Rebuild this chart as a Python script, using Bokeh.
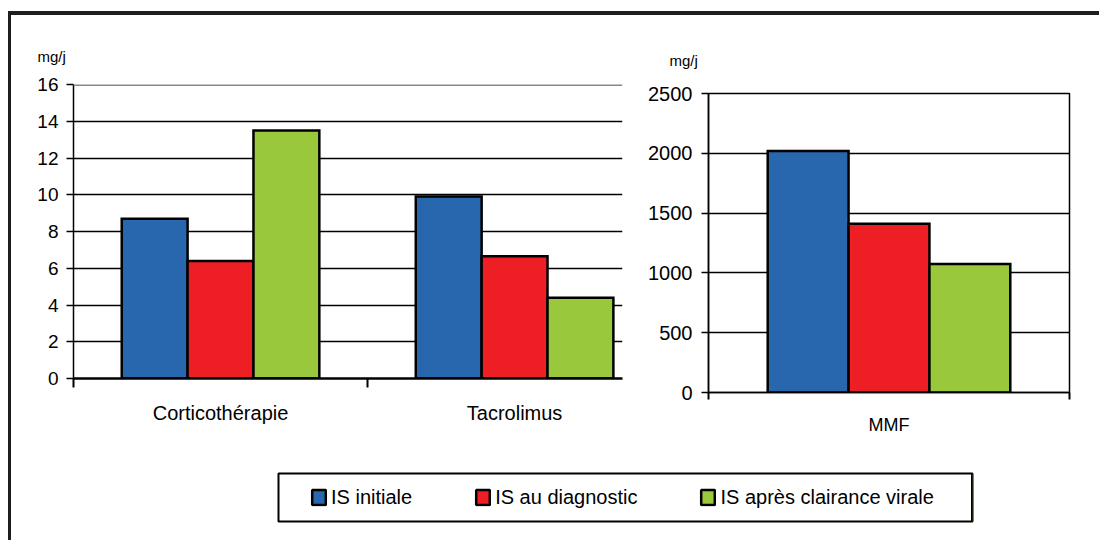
from bokeh.plotting import figure
from bokeh.models import (FixedTicker, Range1d, ColumnDataSource, Span,
                          Legend, LegendItem)
from bokeh.transform import dodge
from bokeh.layouts import column, row
from bokeh.embed import file_html
from bokeh.resources import INLINE

# ---- data ----
series = ["IS initiale", "IS au diagnostic", "IS après clairance virale"]
colors = ["#2866AE", "#EE1F24", "#99C83C"]

left_cats = ["Corticothérapie", "Tacrolimus"]
left_initiale = [8.7, 9.9]
left_diagnostic = [6.4, 6.65]
left_clairance = [13.5, 4.4]
left_ticks = [0, 2, 4, 6, 8, 10, 12, 14, 16]

right_cats = ["MMF"]
right_initiale = [2020]
right_diagnostic = [1410]
right_clairance = [1075]
right_ticks = [0, 500, 1000, 1500, 2000, 2500]

unit = "mg/j"
FONT = "Liberation Sans"
BW = 0.224


def style_common(p):
    p.xgrid.visible = False
    p.ygrid.grid_line_color = "black"
    p.ygrid.grid_line_width = 1.5
    for ax in (p.xaxis[0], p.yaxis[0]):
        ax.axis_line_color = "black"
        ax.major_label_text_font = FONT
        ax.major_label_text_color = "black"
        ax.major_tick_line_color = "black"
        ax.minor_tick_line_color = "black"
        ax.major_tick_line_width = 1.5
        ax.minor_tick_line_width = 2
    p.background_fill_color = "white"
    p.border_fill_color = "white"


def set_unit_title(p, offset, standoff):
    p.title.text = unit
    p.title.align = "left"
    p.title.offset = offset
    p.title.standoff = standoff
    p.title.text_font = FONT
    p.title.text_font_size = "15px"
    p.title.text_font_style = "normal"
    p.title.text_color = "black"


def add_bars(p, cats, vals):
    xs = [i + 0.5 for i in range(len(cats))]
    src = ColumnDataSource(dict(x=xs, a=vals[0], b=vals[1], c=vals[2]))
    for off, col, c in zip([-BW, 0, BW], ["a", "b", "c"], colors):
        p.vbar(x=dodge("x", off), top=col, width=BW, source=src, fill_color=c,
               line_color="black", line_width=2.5, line_join="miter")
    return xs


# ---- left chart ----
p1 = figure(width=619, height=425, x_range=Range1d(0, 1.867), y_range=Range1d(0, 16),
            output_backend="svg", toolbar_location=None,
            min_border_left=62, min_border_right=8, min_border_top=69, min_border_bottom=62)
style_common(p1)
set_unit_title(p1, -36, 39)
p1.outline_line_color = None
xs1 = add_bars(p1, left_cats, [left_initiale, left_diagnostic, left_clairance])
p1.xaxis.ticker = FixedTicker(ticks=xs1, minor_ticks=list(range(len(left_cats) + 1)))
p1.xaxis.major_label_overrides = {x: c for x, c in zip(xs1, left_cats)}
p1.xaxis.major_tick_out = 0
p1.xaxis.major_tick_in = 0
p1.xaxis.minor_tick_out = 9
p1.xaxis.minor_tick_in = 0
p1.xaxis.axis_line_width = 2.5
p1.xaxis.major_label_standoff = 14
p1.xaxis.major_label_text_font_size = "20px"
p1.yaxis.ticker = FixedTicker(ticks=left_ticks, minor_ticks=[])
p1.ygrid.ticker = FixedTicker(ticks=left_ticks, minor_ticks=[])
p1.yaxis.major_tick_out = 7
p1.yaxis.major_tick_in = 0
p1.yaxis.axis_line_width = 1.5
p1.yaxis.major_label_standoff = 8
p1.yaxis.major_label_text_font_size = "19px"
p1.add_layout(Span(location=left_ticks[-1], dimension="width", line_color="#888888", line_width=3))

# ---- right chart ----
p2 = figure(width=469, height=430, x_range=Range1d(0, 1), y_range=Range1d(0, 2500),
            output_backend="svg", toolbar_location=None, margin=(9, 0, 0, 0),
            min_border_left=78, min_border_right=30, min_border_top=69, min_border_bottom=62)
style_common(p2)
set_unit_title(p2, -39, 49)
p2.outline_line_color = "black"
p2.outline_line_width = 1.5
xs2 = add_bars(p2, right_cats, [right_initiale, right_diagnostic, right_clairance])
p2.xaxis.ticker = FixedTicker(ticks=xs2, minor_ticks=list(range(len(right_cats) + 1)))
p2.xaxis.major_label_overrides = {x: c for x, c in zip(xs2, right_cats)}
p2.xaxis.major_tick_out = 0
p2.xaxis.major_tick_in = 0
p2.xaxis.minor_tick_out = 7
p2.xaxis.minor_tick_in = 0
p2.xaxis.axis_line_width = 1.5
p2.xaxis.major_label_standoff = 15
p2.xaxis.major_label_text_font_size = "18px"
p2.yaxis.ticker = FixedTicker(ticks=right_ticks, minor_ticks=[])
p2.ygrid.ticker = FixedTicker(ticks=right_ticks, minor_ticks=[])
p2.yaxis.major_tick_out = 7
p2.yaxis.major_tick_in = 0
p2.yaxis.axis_line_width = 1.5
p2.yaxis.major_label_standoff = 9
p2.yaxis.major_label_text_font_size = "20px"

# ---- legend ----
lf = figure(width=1088, height=86, x_range=Range1d(0, 1), y_range=Range1d(0, 1),
            output_backend="svg", toolbar_location=None,
            x_axis_location=None, y_axis_location=None,
            min_border_left=267, min_border_right=127, min_border_top=19, min_border_bottom=19)
lf.grid.visible = False
lf.outline_line_color = "black"
lf.outline_line_width = 2
items = []
for s, c in zip(series, colors):
    # legend swatches only: the point lies outside the visible range
    r = lf.vbar(x=[5], top=[1], width=0.1, fill_color=c, line_color="black", line_width=2.5)
    items.append(LegendItem(label=s, renderers=[r]))
legend = Legend(items=items, location="left", orientation="horizontal",
                border_line_color=None, background_fill_alpha=0, padding=0, margin=32,
                spacing=62, glyph_width=17, glyph_height=19, label_standoff=4,
                label_text_font=FONT, label_text_font_size="20px", label_text_color="black")
lf.add_layout(legend)

layout = column(row(p1, p2), lf,
                styles={"border-top": "4px solid #1e1e1e", "border-left": "3px solid #1e1e1e",
                        "margin-top": "11px", "margin-left": "8px"})

open("out.html", "w").write(file_html(layout, INLINE))
